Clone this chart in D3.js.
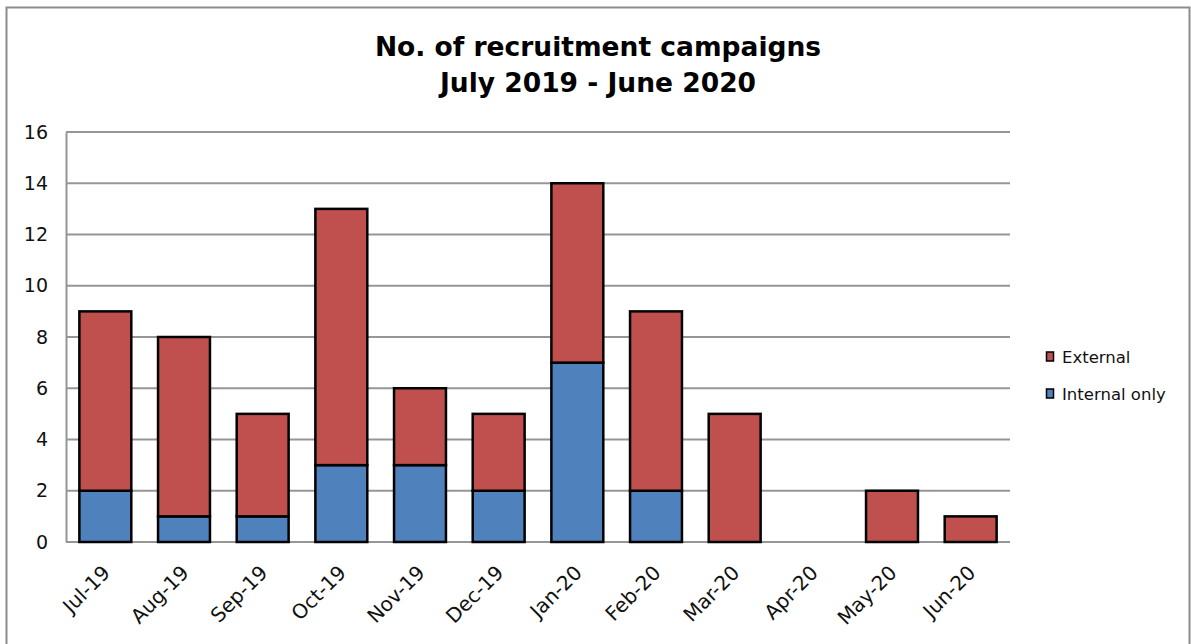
<!DOCTYPE html>
<html lang="en">
    <head>
        <meta charset="utf-8">
        <title>D3</title>
        <script type="text/javascript" src="https://cdnjs.cloudflare.com/ajax/libs/d3/7.8.5/d3.min.js"></script>
        <style type="text/css">
            body { margin: 0; background: #fff; }
            text { font-family: "DejaVu Sans", Verdana, sans-serif; }
        </style>
    </head>
    <body>
        <script type="text/javascript">
            var months = ["Jul-19", "Aug-19", "Sep-19", "Oct-19", "Nov-19", "Dec-19",
                          "Jan-20", "Feb-20", "Mar-20", "Apr-20", "May-20", "Jun-20"];
            var internalOnly = [2, 1, 1, 3, 3, 2, 7, 2, 0, 0, 0, 0];
            var external = [7, 7, 4, 10, 3, 3, 7, 7, 5, 0, 2, 1];
            var yTicks = [0, 2, 4, 6, 8, 10, 12, 14, 16];
            var seriesNames = ["Internal only", "External"];
            var seriesColors = ["#4F81BD", "#C0504D"];

            var w = 1191;
            var h = 644;
            var plotLeft = 66, plotRight = 1010, plotTop = 132, plotBottom = 542;

            var rows = months.map(function(m, i) {
                return { month: m, "Internal only": internalOnly[i], "External": external[i] };
            });

            var svg = d3.select("body")
                        .append("svg")
                        .attr("width", w)
                        .attr("height", h);

            // chart frame
            svg.append("rect")
               .attr("x", 6.5).attr("y", 7.5)
               .attr("width", 1183).attr("height", 650)
               .attr("fill", "#fff")
               .attr("stroke", "#8c8c8c")
               .attr("stroke-width", 2);

            var x = d3.scaleBand()
                      .domain(months)
                      .range([plotLeft, plotRight])
                      .paddingInner(0.34)
                      .paddingOuter(0.17);

            var y = d3.scaleLinear()
                      .domain([0, 16])
                      .range([plotBottom, plotTop]);

            // gridlines
            svg.append("g")
               .selectAll("line")
               .data(yTicks)
               .enter()
               .append("line")
               .attr("x1", plotLeft).attr("x2", plotRight)
               .attr("y1", function(d) { return y(d); })
               .attr("y2", function(d) { return y(d); })
               .attr("stroke", "#969696")
               .attr("stroke-width", 2);

            // y axis
            var yAxis = svg.append("g")
               .attr("transform", "translate(" + plotLeft + ",0)")
               .call(d3.axisLeft(y).tickValues(yTicks).tickSize(0).tickPadding(18));
            yAxis.select(".domain").attr("stroke", "#969696").attr("stroke-width", 2);
            yAxis.selectAll("text")
                 .attr("font-size", "19px")
                 .attr("fill", "#111")
                 .attr("font-family", "DejaVu Sans, Verdana, sans-serif");

            var stack = d3.stack().keys(seriesNames);
            var layers = stack(rows);

            svg.append("g")
               .selectAll("g")
               .data(layers)
               .enter()
               .append("g")
               .attr("fill", function(d, i) { return seriesColors[i]; })
               .selectAll("rect")
               .data(function(d) { return d.filter(function(v) { return v[1] - v[0] > 0; }); })
               .enter()
               .append("rect")
               .attr("x", function(d) { return x(d.data.month); })
               .attr("width", x.bandwidth())
               .attr("y", function(d) { return y(d[1]); })
               .attr("height", function(d) { return y(d[0]) - y(d[1]); })
               .attr("stroke", "#000")
               .attr("stroke-width", 2.5);

            // x axis labels
            var xAxis = svg.append("g")
               .attr("transform", "translate(0," + plotBottom + ")")
               .call(d3.axisBottom(x).tickSize(0).tickPadding(0));
            xAxis.select(".domain").remove();
            xAxis.selectAll("text")
                 .attr("font-size", "20px")
                 .attr("fill", "#111")
                 .attr("font-family", "DejaVu Sans, Verdana, sans-serif")
                 .attr("text-anchor", "end")
                 .attr("dy", "0")
                 .attr("transform", "translate(6,32) rotate(-45)");

            // title
            var title = svg.append("text")
               .attr("x", 598)
               .attr("text-anchor", "middle")
               .attr("font-size", "26.5px")
               .attr("font-weight", "bold")
               .attr("fill", "#000");
            title.append("tspan").attr("x", 598).attr("y", 56).text("No. of recruitment campaigns");
            title.append("tspan").attr("x", 598).attr("y", 92).text("July 2019 - June 2020");

            // legend
            var legendOrder = [1, 0];
            var legend = svg.append("g")
               .selectAll("g")
               .data(legendOrder)
               .enter()
               .append("g")
               .attr("transform", function(d, i) { return "translate(1050," + (357 + i * 37) + ")"; });
            legend.append("rect")
               .attr("x", -3.5).attr("y", -5)
               .attr("width", 7).attr("height", 9)
               .attr("fill", function(d) { return seriesColors[d]; })
               .attr("stroke", "#000")
               .attr("stroke-width", 1.5);
            legend.append("text")
               .attr("x", 12)
               .attr("y", 6)
               .attr("font-size", "16.5px")
               .attr("fill", "#111")
               .text(function(d) { return seriesNames[d]; });
        </script>
    </body>
</html>
